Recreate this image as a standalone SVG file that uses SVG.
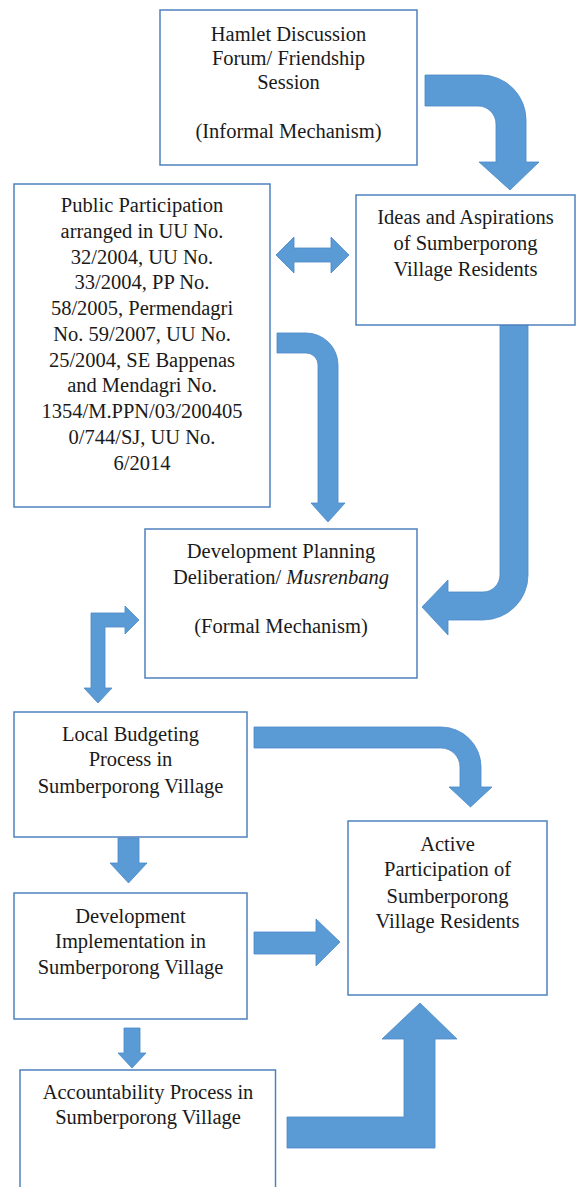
<svg xmlns="http://www.w3.org/2000/svg" width="576" height="1187" viewBox="0 0 576 1187">
<style>
.box{fill:#fff;stroke:#4F81BD;stroke-width:1.5}
.arr{fill:#5B9BD5;stroke:#4A89C8;stroke-width:0.8}
text{font-family:"Liberation Serif","Times New Roman",serif;font-size:20.5px;fill:#1a1a1a;text-anchor:middle}
</style>
<rect width="576" height="1187" fill="#fff"/>
<g id="connectors">
<path class="arr" d="M425,75 H481 A45,45 0 0 1 526,120 V162 H539 L510,190 L479,162 H496 V124 A18,18 0 0 0 478,106 H425 Z"/>
<path class="arr" d="M276,255 L294,237 V248 H331 V237 L349,255 L331,273 V262 H294 V273 Z"/>
<path class="arr" d="M277,333 H306 A32,32 0 0 1 338,365 V503 H345 L328,522 L311,503 H318 V365 A12,12 0 0 0 306,353 H277 Z"/>
<path class="arr" d="M500,325 H528 V575 A45,45 0 0 1 483,620 H448 V635 L422,607 L448,580 V592 H483 A17,17 0 0 0 500,575 Z"/>
<path class="arr" d="M91,613 H125 V606 L139,620 L125,634 V627 H105 V688 H112 L98,703 L84,688 H91 Z"/>
<path class="arr" d="M254,727 H441 A40,40 0 0 1 481,767 V787 H492 L470.5,807 L449,787 H460 V767 A19,19 0 0 0 441,748 H254 Z"/>
<path class="arr" d="M118,838 H139 V863 H147 L128.5,883 L110,863 H118 Z"/>
<path class="arr" d="M254,932 H316 V919 L340,942 L316,966 V954 H254 Z"/>
<path class="arr" d="M124,1028 H140 V1053 H146 L132,1068 L118,1053 H124 Z"/>
<path class="arr" d="M287,1117 H404 V1039 H382 L420,1003 L457,1039 H435 V1148 H287 Z"/>
</g>
<g id="hamlet">
<rect class="box" x="160" y="10" width="257" height="155"/>
<text x="288.5" y="41">Hamlet Discussion</text>
<text x="288.5" y="65">Forum/ Friendship</text>
<text x="288.5" y="89">Session</text>
<text x="288.5" y="138">(Informal Mechanism)</text>
</g>
<g id="public">
<rect class="box" x="14" y="184" width="256" height="323"/>
<text x="142" y="212">Public Participation</text>
<text x="142" y="238">arranged in UU No.</text>
<text x="142" y="264">32/2004, UU No.</text>
<text x="142" y="289">33/2004, PP No.</text>
<text x="142" y="315">58/2005, Permendagri</text>
<text x="142" y="341">No. 59/2007, UU No.</text>
<text x="142" y="367">25/2004, SE Bappenas</text>
<text x="142" y="392">and Mendagri No.</text>
<text x="142" y="418">1354/M.PPN/03/200405</text>
<text x="142" y="444">0/744/SJ, UU No.</text>
<text x="142" y="470">6/2014</text>
</g>
<g id="ideas">
<rect class="box" x="356" y="195" width="219" height="130"/>
<text x="465.5" y="224">Ideas and Aspirations</text>
<text x="465.5" y="250">of Sumberporong</text>
<text x="465.5" y="276">Village Residents</text>
</g>
<g id="musrenbang">
<rect class="box" x="145" y="529" width="272" height="149"/>
<text x="281" y="558">Development Planning</text>
<text x="281" y="584">Deliberation/ <tspan font-style="italic">Musrenbang</tspan></text>
<text x="281" y="633">(Formal Mechanism)</text>
</g>
<g id="budgeting">
<rect class="box" x="14" y="712" width="233" height="125"/>
<text x="130.5" y="741">Local Budgeting</text>
<text x="130.5" y="766">Process in</text>
<text x="130.5" y="793">Sumberporong Village</text>
</g>
<g id="active">
<rect class="box" x="348" y="821" width="199" height="174"/>
<text x="447.5" y="851">Active</text>
<text x="447.5" y="876">Participation of</text>
<text x="447.5" y="903">Sumberporong</text>
<text x="447.5" y="928">Village Residents</text>
</g>
<g id="implementation">
<rect class="box" x="14" y="893" width="233" height="126"/>
<text x="130.5" y="923">Development</text>
<text x="130.5" y="948">Implementation in</text>
<text x="130.5" y="974">Sumberporong Village</text>
</g>
<g id="accountability">
<rect class="box" x="20" y="1070" width="255.5" height="130"/>
<text x="148" y="1099">Accountability Process in</text>
<text x="148" y="1124">Sumberporong Village</text>
</g>
</svg>
